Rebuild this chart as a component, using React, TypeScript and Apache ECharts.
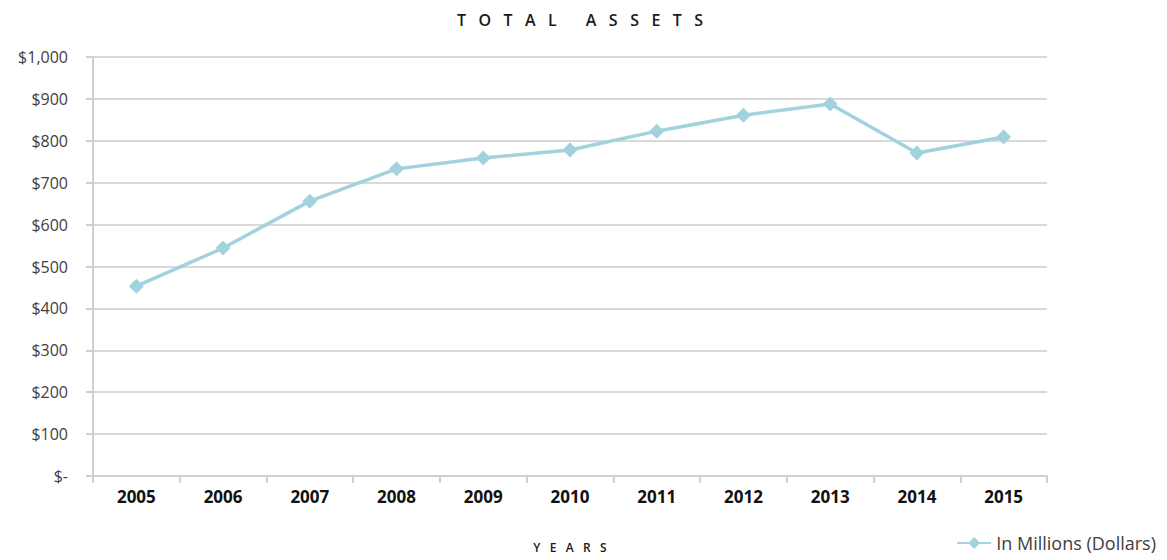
import React, { useEffect, useRef } from "react";
import * as echarts from "echarts";

const years = ["2005", "2006", "2007", "2008", "2009", "2010", "2011", "2012", "2013", "2014", "2015"];
const assets = [453, 544, 656, 733, 759, 778, 823, 861, 888, 771, 809];
const seriesName = "In Millions (Dollars)";
const titleText = "T   O   T   A   L       A   S   S   E   T   S";
const xTitle = "Y   E   A   R   S";

export default function App() {
  const ref = useRef<HTMLDivElement>(null);
  useEffect(() => {
    if (!ref.current) return;
    const chart = echarts.init(ref.current, null, { renderer: "svg" });
    const font = "'Open Sans', 'Liberation Sans', sans-serif";
    chart.setOption({
      animation: false,
      title: {
        text: titleText,
        left: 575,
        textAlign: "center",
        top: 7,
        textStyle: { fontFamily: font, fontSize: 16, fontWeight: 600, color: "#1a1a1a" },
      },
      legend: {
        data: [seriesName],
        right: 6,
        bottom: 3,
        itemWidth: 34,
        itemHeight: 15,
        itemGap: 4,
        textStyle: { fontFamily: font, fontSize: 18, color: "#404040" },
      },
      grid: { left: 93, right: 120, top: 57, bottom: 84, containLabel: false },
      xAxis: {
        type: "category",
        data: years,
        boundaryGap: true,
        name: xTitle,
        nameLocation: "middle",
        nameGap: 65,
        nameTextStyle: { fontFamily: font, fontSize: 12, fontWeight: 600, color: "#1a1a1a" },
        axisLine: { lineStyle: { color: "#d0d0d0", width: 2 } },
        axisTick: { show: true, interval: 0, length: 7, lineStyle: { color: "#d0d0d0", width: 2 } },
        axisLabel: { fontFamily: font, fontSize: 17, fontWeight: "bold", color: "#111", margin: 12 },
      },
      yAxis: {
        type: "value",
        min: 0,
        max: 1000,
        interval: 100,
        axisLine: { show: true, lineStyle: { color: "#d0d0d0", width: 2 } },
        axisTick: { show: true, length: 7, lineStyle: { color: "#d0d0d0", width: 2 } },
        splitLine: { lineStyle: { color: "#d9d9d9", width: 2 } },
        axisLabel: {
          fontFamily: font,
          fontSize: 16,
          color: "#404040",
          margin: 25,
          formatter: (v: number) => (v === 0 ? "$-" : "$" + v.toLocaleString("en-US")),
        },
      },
      series: [
        {
          name: seriesName,
          type: "line",
          data: assets,
          symbol: "diamond",
          symbolSize: 15,
          lineStyle: { color: "#a2d2de", width: 3.5 },
          itemStyle: { color: "#a2d2de" },
        },
      ],
    });
    return () => chart.dispose();
  }, []);
  return <div ref={ref} style={{ position: "absolute", left: 0, top: 0, width: 1167, height: 560 }} />;
}
